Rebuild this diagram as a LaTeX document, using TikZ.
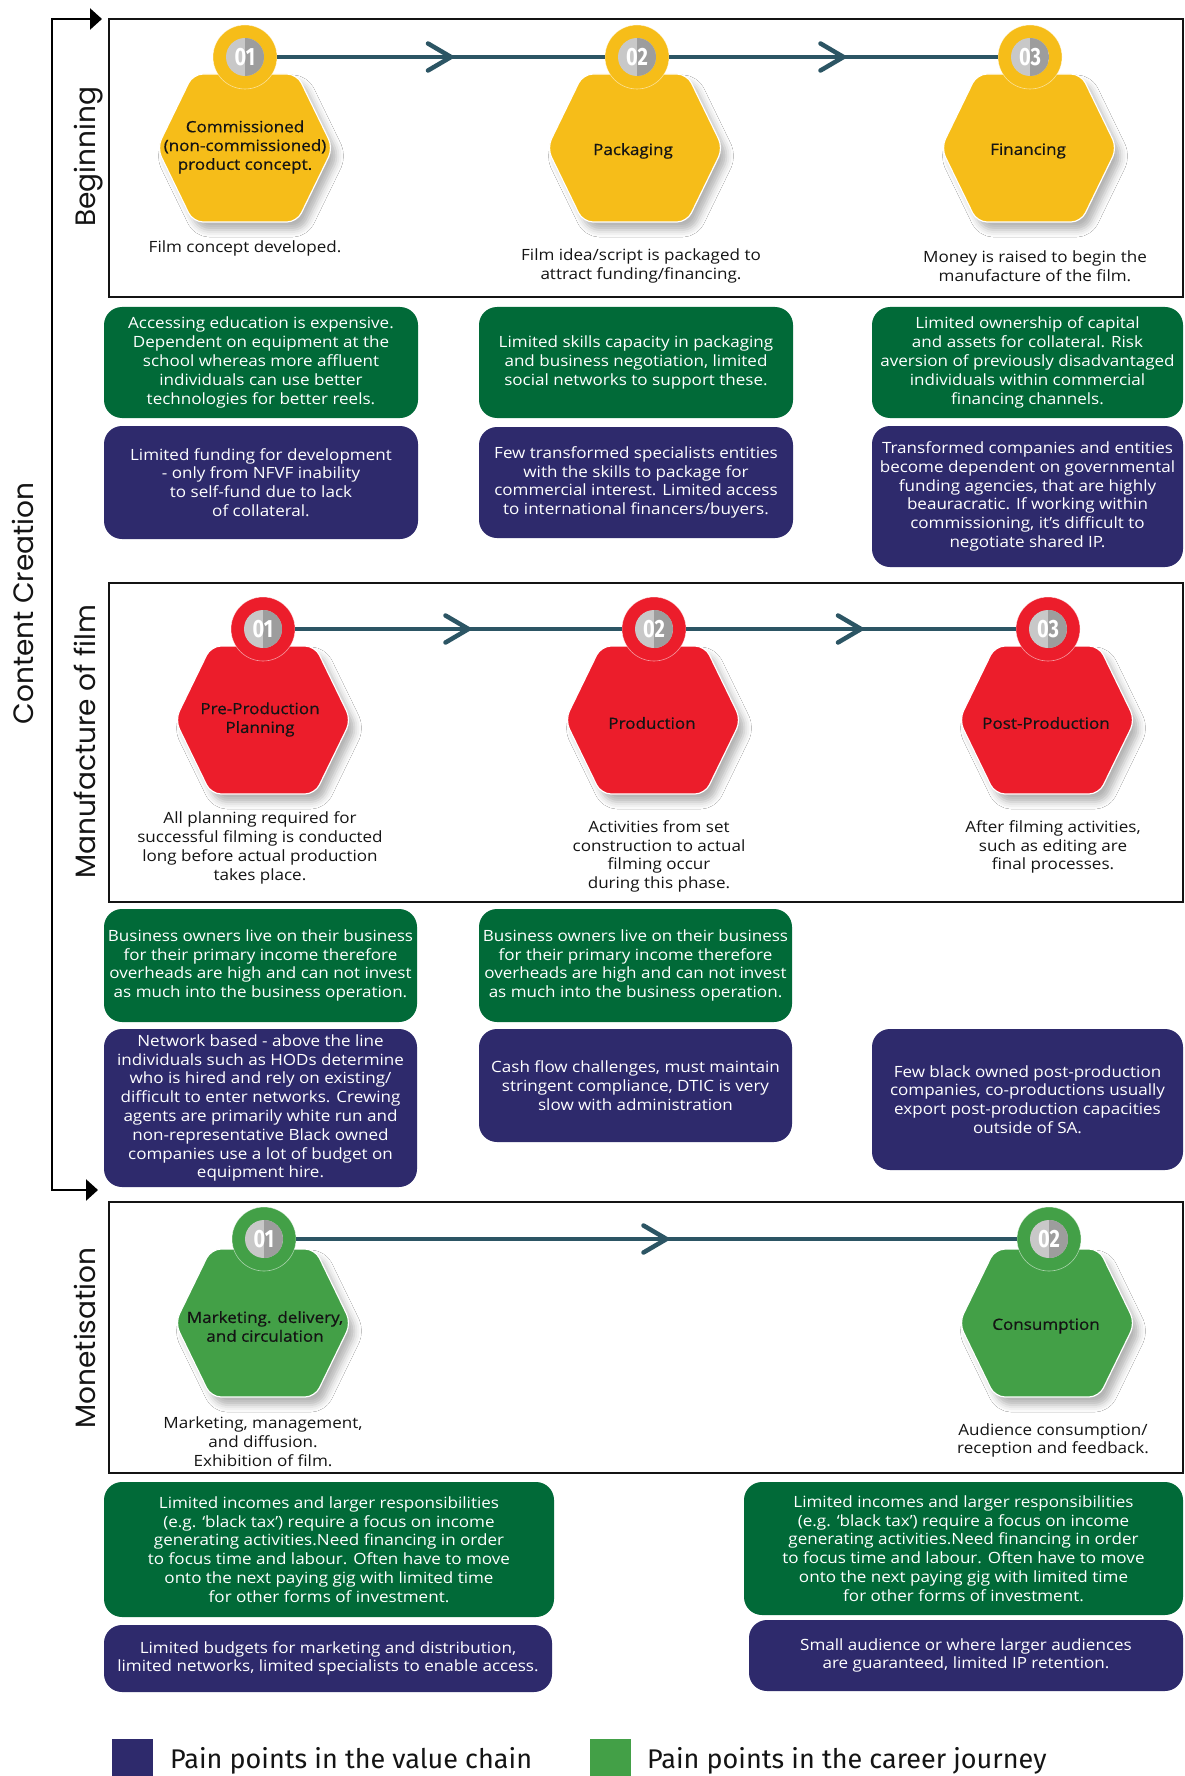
\documentclass[tikz,border=0pt]{standalone}
\usepackage{fontspec}
\setmainfont[FakeStretch=1.1]{Open Sans}
\newfontfamily\hexfont[FakeStretch=1.1,FakeBold=0.6]{Open Sans}
\newfontfamily\labelfont{Poppins}
\newfontfamily\numfont[FakeStretch=0.8]{Fira Sans}
\newfontfamily\legendfont{Fira Sans}
\usetikzlibrary{calc,arrows.meta,shadows.blur}

\definecolor{stageyellow}{HTML}{F6BD19}
\definecolor{stagered}{HTML}{EC1D2B}
\definecolor{stagegreen}{HTML}{43A047}
\definecolor{careergreen}{HTML}{016A38}
\definecolor{chainnavy}{HTML}{2E2A6C}
\definecolor{linkteal}{HTML}{2C5564}
\definecolor{disklight}{HTML}{C8C8C8}
\definecolor{diskdark}{HTML}{9D9D9D}
\definecolor{inkblack}{HTML}{141414}

\tikzset{
  frame/.style={draw=inkblack, line width=2.4pt},
  pain/.style={rounded corners=18pt, text=white, align=center, inner sep=0pt,
    font=\fontsize{15.5}{18.8}\selectfont},
  career/.style={pain, fill=careergreen},
  chain/.style={pain, fill=chainnavy},
  desc/.style={align=center, inner sep=0pt, text=inkblack,
    font=\fontsize{15.5}{18.8}\selectfont},
  hexlabel/.style={align=center, inner sep=0pt, text=inkblack,
    font=\hexfont\fontsize{15.5}{18.8}\selectfont},
  stagelabel/.style={rotate=90, anchor=base, inner sep=0pt, text=inkblack,
    font=\labelfont\fontsize{28}{30}\selectfont},
  ring/.style={circle, minimum size=64pt, inner sep=0pt, fill=#1,
    draw=white, draw opacity=0.55, line width=0.6pt},
  numdisk/.style={circle, minimum size=38pt, inner sep=0pt, fill=disklight,
    text=white, font=\numfont\bfseries\fontsize{25}{25}\selectfont,
    path picture={\fill[diskdark] (path picture bounding box.north)
      rectangle (path picture bounding box.south east);}},
  link/.style={draw=linkteal, line width=4.5pt},
  chevron/.style={draw=linkteal, line width=4.5pt, line cap=round, line join=miter},
  bracket/.style={draw=black, line width=2.6pt,
    {Triangle[length=12pt,width=21pt]}-{Triangle[length=12pt,width=21pt]}},
  legendtext/.style={anchor=base west, inner sep=0pt, text=inkblack,
    font=\legendfont\fontsize{27}{29}\selectfont},
  legendkey/.style={fill=#1, minimum width=41pt, minimum height=45pt,
    inner sep=0pt, anchor=north west},
  pics/hexa/.style={code={
    \path[fill=#1, draw=white, line width=1.2pt, rounded corners=10pt,
      blur shadow={shadow xshift=6pt, shadow yshift=-8pt,
        shadow blur radius=7pt, shadow opacity=30}]
      (0,-74) -- (52,-74) -- (88,0) -- (52,74) -- (-52,74) -- (-88,0)
      -- (-52,-74) -- cycle;
  }}
}

% draws a chevron pointing right whose tip sits 10pt past the midpoint of two nodes
\newcommand{\midchevron}[2]{%
  \draw[chevron] ($($(#1)!0.5!(#2)$)+(-13,-13.5)$) -- ($($(#1)!0.5!(#2)$)+(10,0)$)
    -- ($($(#1)!0.5!(#2)$)+(-13,13.5)$);}

\begin{document}
\begin{tikzpicture}[x=1pt,y=-1pt]
\useasboundingbox (0,0) rectangle (1184,1776);
\fill[white] (0,0) rectangle (1184,1776);

% ---------- outer bracket ----------
\coordinate (bracketTop) at (102,19);
\coordinate (spine) at (52,1190);
\coordinate (bracketBot) at (98,1190);
\draw[bracket] (bracketTop) -| (spine) |- (bracketBot);
\node[stagelabel] (contentcreation) at (33,603.5) {Content Creation};

% ---------- stage frames ----------
\draw[frame] (109,19) rectangle (1183,297);
\draw[frame] (109,583) rectangle (1183,902);
\draw[frame] (109,1202) rectangle (1183,1473);

\node[stagelabel] (lbegin) at (95,157) {Beginning};
\node[stagelabel] (lmanu) at (95,742) {Manufacture of film};
\node[stagelabel] (lmon) at (95,1338) {Monetisation};

% ---------- hexagons ----------
\pic at (245,148) {hexa=stageyellow};
\pic at (635,148) {hexa=stageyellow};
\pic at (1029,148) {hexa=stageyellow};
\pic at (263,720) {hexa=stagered};
\pic at (653,720) {hexa=stagered};
\pic at (1047,720) {hexa=stagered};
\pic at (263,1323) {hexa=stagegreen};
\pic at (1047,1323) {hexa=stagegreen};

% ---------- number rings ----------
\node[ring=stageyellow] (c11) at (245,57) {};
\node[ring=stageyellow] (c12) at (637,57) {};
\node[ring=stageyellow] (c13) at (1030,57) {};
\node[ring=stagered] (c21) at (263,629) {};
\node[ring=stagered] (c22) at (654,629) {};
\node[ring=stagered] (c23) at (1048,629) {};
\node[ring=stagegreen] (c31) at (264,1239) {};
\node[ring=stagegreen] (c32) at (1049,1239) {};

% ---------- links between steps ----------
\draw[link] (c11) -- (c12);
\draw[link] (c12) -- (c13);
\draw[link] (c21) -- (c22);
\draw[link] (c22) -- (c23);
\draw[link] (c31) -- (c32);
\midchevron{c11}{c12}
\midchevron{c12}{c13}
\midchevron{c21}{c22}
\midchevron{c22}{c23}
\midchevron{c31}{c32}

% ---------- number disks ----------
\node[numdisk] (n11) at (c11) {01};
\node[numdisk] (n12) at (c12) {02};
\node[numdisk] (n13) at (c13) {03};
\node[numdisk] (n21) at (c21) {01};
\node[numdisk] (n22) at (c22) {02};
\node[numdisk] (n23) at (c23) {03};
\node[numdisk] (n31) at (c31) {01};
\node[numdisk] (n32) at (c32) {02};

% ---------- step names ----------
\node[hexlabel] (h11) at (245,147) {Commissioned\\(non-commissioned)\\product concept.};
\node[hexlabel] (h12) at (633,151) {Packaging};
\node[hexlabel] (h13) at (1028,151) {Financing};
\node[hexlabel] (h21) at (260,719.5) {Pre-Production\\Planning};
\node[hexlabel] (h22) at (652,723) {Production};
\node[hexlabel] (h23) at (1046,723) {Post-Production};
\node[hexlabel] (h31) at (265,1326.5) {Marketing. delivery,\\and circulation};
\node[hexlabel] (h32) at (1046,1326) {Consumption};

% ---------- step descriptions ----------
\node[desc] (d11) at (245,248) {Film concept developed.};
\node[desc] (d12) at (641,266) {Film idea/script is packaged to\\attract funding/financing.};
\node[desc] (d13) at (1035,266) {Money is raised to begin the\\manufacture of the film.};
\node[desc] (d21) at (260,848) {All planning required for\\successful filming is conducted\\long before actual production\\takes place.};
\node[desc] (d22) at (659,856.5) {Activities from set\\construction to actual\\filming occur\\during this phase.};
\node[desc] (d23) at (1053,847) {After filming activities,\\such as editing are\\final processes.};
\node[desc] (d31) at (263,1442) {Marketing, management,\\and diffusion.\\Exhibition of film.};
\node[desc] (d32) at (1053,1440.5) {Audience consumption/\\reception and feedback.};

% ---------- pain points: beginning ----------
\node[career, minimum width=314pt, minimum height=111pt] (g11) at (261,362.5)
  {Accessing education is expensive.\\Dependent on equipment at the\\school whereas more affluent\\individuals can use better\\technologies for better reels.};
\node[chain, minimum width=314pt, minimum height=113pt] (b11) at (261,482.5)
  {Limited funding for development\\- only from NFVF inability\\to self-fund due to lack\\of collateral.};
\node[career, minimum width=314pt, minimum height=111pt] (g12) at (636,362.5)
  {Limited skills capacity in packaging\\and business negotiation, limited\\social networks to support these.};
\node[chain, minimum width=314pt, minimum height=111pt] (b12) at (636,482.5)
  {Few transformed specialists entities\\with the skills to package for\\commercial interest. Limited access\\to international financers/buyers.};
\node[career, minimum width=311pt, minimum height=111pt] (g13) at (1027.5,362.5)
  {Limited ownership of capital\\and assets for collateral. Risk\\aversion of previously disadvantaged\\individuals within commercial\\financing channels.};
\node[chain, minimum width=311pt, minimum height=141pt] (b13) at (1027.5,496.5)
  {Transformed companies and entities\\become dependent on governmental\\funding agencies, that are highly\\beauracratic. If working within\\commissioning, it’s difficult to\\negotiate shared IP.};

% ---------- pain points: manufacture ----------
\node[career, minimum width=313pt, minimum height=113pt] (g21) at (260.5,965.5)
  {Business owners live on their business\\for their primary income therefore\\overheads are high and can not invest\\as much into the business operation.};
\node[chain, minimum width=313pt, minimum height=158pt] (b21) at (260.5,1108)
  {Network based - above the line\\individuals such as HODs determine\\who is hired and rely on existing/\\difficult to enter networks. Crewing\\agents are primarily white run and\\non-representative Black owned\\companies use a lot of budget on\\equipment hire.};
\node[career, minimum width=313pt, minimum height=113pt] (g22) at (635.5,965.5)
  {Business owners live on their business\\for their primary income therefore\\overheads are high and can not invest\\as much into the business operation.};
\node[chain, minimum width=313pt, minimum height=113pt] (b22) at (635.5,1085.5)
  {Cash flow challenges, must maintain\\stringent compliance, DTIC is very\\slow with administration};
\node[chain, minimum width=311pt, minimum height=141pt] (b23) at (1027.5,1099.5)
  {Few black owned post-production\\companies, co-productions usually\\export post-production capacities\\outside of SA.};

% ---------- pain points: monetisation ----------
\node[career, minimum width=450pt, minimum height=135pt] (g31) at (329,1549.5)
  {Limited incomes and larger responsibilities\\(e.g. ‘black tax’) require a focus on income\\generating activities.Need financing in order\\to focus time and labour. Often have to move\\onto the next paying gig with limited time\\for other forms of investment.};
\node[chain, minimum width=448pt, minimum height=67pt] (b31) at (328,1658.5)
  {Limited budgets for marketing and distribution,\\limited networks, limited specialists to enable access.};
\node[career, minimum width=439pt, minimum height=133pt] (g32) at (963.5,1548.5)
  {Limited incomes and larger responsibilities\\(e.g. ‘black tax’) require a focus on income\\generating activities.Need financing in order\\to focus time and labour. Often have to move\\onto the next paying gig with limited time\\for other forms of investment.};
\node[chain, minimum width=434pt, minimum height=71pt] (b32) at (966,1655.5)
  {Small audience or where larger audiences\\are guaranteed, limited IP retention.};

% ---------- legend ----------
\node[legendkey=chainnavy] (keychain) at (112,1739) {};
\node[legendtext] (keychaintext) at (170,1768) {Pain points in the value chain};
\node[legendkey=stagegreen] (keycareer) at (590,1739) {};
\node[legendtext] (keycareertext) at (647,1768) {Pain points in the career journey};
\end{tikzpicture}
\end{document}
